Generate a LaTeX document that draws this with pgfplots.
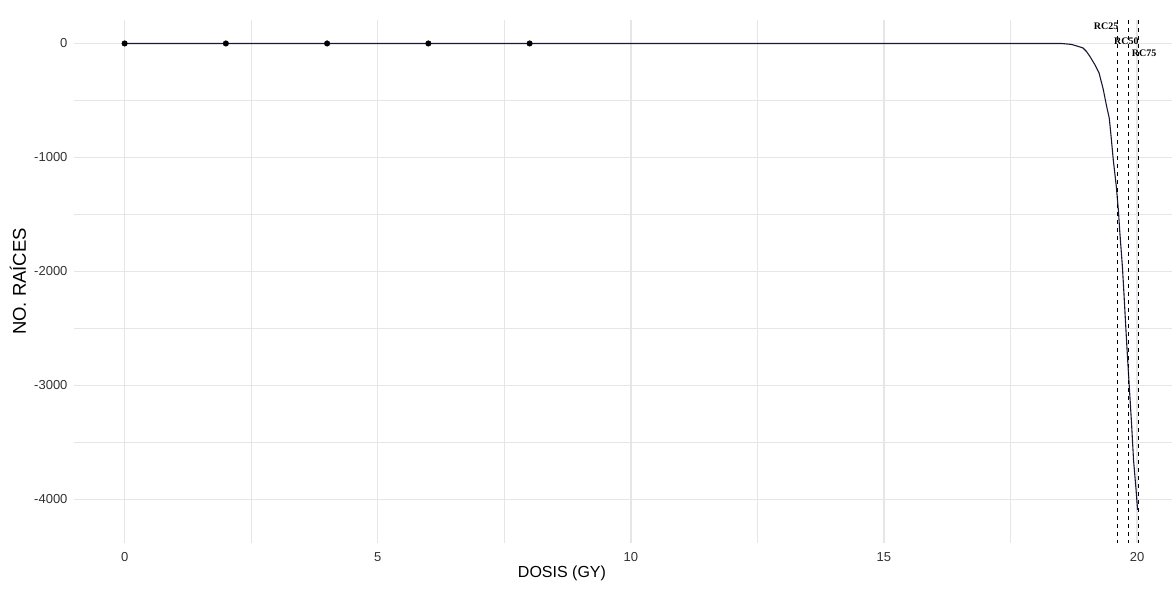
\documentclass[border=0pt]{standalone}
\usepackage{fontspec}
\setmainfont{Liberation Sans}
\newfontfamily\labserif{Liberation Serif}
\usepackage{pgfplots}
\pgfplotsset{compat=1.18}
\definecolor{gridc}{HTML}{E6E6E6}
\definecolor{tickc}{HTML}{333333}
\definecolor{curvec}{RGB}{25,25,55}
\begin{document}
\begin{tikzpicture}[x=1pt,y=1pt]
\begin{axis}[
  at={(74pt,48pt)}, anchor=south west,
  scale only axis, width=1098pt, height=523pt,
  xmin=-1, xmax=20.69, ymin=-4382, ymax=206,
  axis line style={draw=none},
  tick style={draw=none},
  major tick length=0pt, minor tick length=0pt,
  xtick={0,5,10,15,20}, xticklabels={0,5,10,15,20},
  minor xtick={2.5,7.5,12.5,17.5},
  ytick={-4000,-3000,-2000,-1000,0}, yticklabels={-4000,-3000,-2000,-1000,0},
  minor ytick={-3500,-2500,-1500,-500},
  grid=both,
  major grid style={draw=gridc, line width=1.3pt},
  minor grid style={draw=gridc, line width=1.0pt},
  tick label style={font=\fontsize{13}{13}\selectfont, text=tickc},
  xticklabel style={yshift=-6pt},
  yticklabel style={xshift=-3pt},
  xlabel={DOSIS (GY)},
  ylabel={NO. RAÍCES},
  xlabel style={font=\fontsize{16}{16}\selectfont, at={(axis description cs:0.4444,0)}, anchor=center, yshift=-30pt},
  ylabel style={font=\fontsize{18.5}{18.5}\selectfont, at={(axis description cs:-0.0510,0.5)}, anchor=center},
  clip=true,
]
% fitted curve
\addplot[color=curvec, line width=1.1pt, no markers] coordinates {
(0,0) (18.5,0) (18.7,-8) (18.81,-22) (18.93,-39) (19.0,-70) (19.07,-115)
(19.17,-189) (19.25,-260) (19.33,-400) (19.40,-554) (19.45,-654) (19.48,-785)
(19.53,-1022) (19.59,-1256) (19.63,-1461) (19.66,-1662) (19.71,-1958)
(19.74,-2189) (19.78,-2513) (19.81,-2747) (19.85,-3039) (19.89,-3329)
(19.93,-3654) (19.98,-3917) (20.01,-4092)
};
% observed points
\addplot[only marks, mark=*, mark size=2.8pt, color=black] coordinates {
(0,0) (2,0) (4,0) (6,0) (8,0)
};
% RC lines
\addplot[black, line width=1.1pt, dash pattern=on 4pt off 4pt] coordinates {(19.61,206) (19.61,-4382)};
\addplot[black, line width=1.1pt, dash pattern=on 4pt off 4pt] coordinates {(19.83,206) (19.83,-4382)};
\addplot[black, line width=1.1pt, dash pattern=on 4pt off 4pt] coordinates {(20.03,206) (20.03,-4382)};
\node[font=\labserif\bfseries\fontsize{10}{10}\selectfont, inner sep=0pt] at (axis cs:19.39,154) {RC25};
\node[font=\labserif\bfseries\fontsize{10}{10}\selectfont, inner sep=0pt] at (axis cs:19.79,16) {RC50};
\node[font=\labserif\bfseries\fontsize{10}{10}\selectfont, inner sep=0pt] at (axis cs:20.14,-86) {RC75};
\end{axis}
\pgfresetboundingbox
\path (0,0) rectangle (1172,591);
\end{tikzpicture}
\end{document}
